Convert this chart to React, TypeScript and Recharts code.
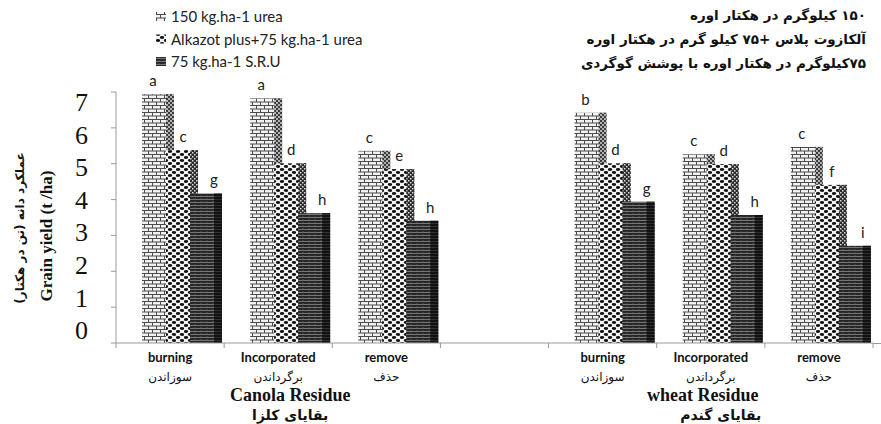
import React from 'react';
import { BarChart, Bar, XAxis, YAxis, LabelList } from 'recharts';

const categories = ['burning', 'Incorporated', 'remove', '', 'burning', 'Incorporated', 'remove'];
const categoriesFa = ['سوزاندن', 'برگرداندن', 'حذف', '', 'سوزاندن', 'برگرداندن', 'حذف'];

// group titles sit under the middle category of each residue group
const groupIndex = [1, 5];
const groupEn = ['Canola Residue', 'wheat Residue'];
const groupFa = ['بقایای کلزا', 'بقایای گندم'];

const urea150 = [6.94, 6.82, 5.36, null, 6.42, 5.26, 5.47];
const alkazot = [5.38, 5.01, 4.85, null, 5.01, 4.99, 4.41];
const sru = [4.17, 3.62, 3.41, null, 3.94, 3.57, 2.71];

const lettersUrea = ['a', 'a', 'c', '', 'b', 'c', 'c'];
const lettersAlk = ['c', 'd', 'e', '', 'd', 'd', 'f'];
const lettersSru = ['g', 'h', 'h', '', 'g', 'h', 'i'];

const yTicks = [0, 1, 2, 3, 4, 5, 6, 7];

const seriesEn = ['150 kg.ha-1 urea', 'Alkazot plus+75 kg.ha-1 urea', '75 kg.ha-1 S.R.U'];
const seriesFa = [
  '۱۵۰ کیلوگرم در هکتار اوره',
  'آلکازوت پلاس +۷۵ کیلو گرم در هکتار اوره',
  '۷۵کیلوگرم در هکتار اوره با پوشش گوگردی',
];

const data = categories.map((cat, i) => ({
  cat,
  fa: categoriesFa[i],
  urea: urea150[i],
  alk: alkazot[i],
  sru: sru[i],
  lu: lettersUrea[i],
  la: lettersAlk[i],
  ls: lettersSru[i],
}));

const W = 881;
const H = 424;
const LEFT = 116;
const RIGHT = 8;
const BAND = (W - LEFT - RIGHT) / categories.length;
const AXIS = '#9a9a9a';

const Patterns = () => (
  <svg width={0} height={0} style={{ position: 'absolute' }}>
    <defs>
      <pattern id="p1" patternUnits="userSpaceOnUse" width={8} height={7}>
        <rect width={8} height={7} fill="#f2f2f2" />
        <line x1={0} y1={0.5} x2={8} y2={0.5} stroke="#4a4a4a" />
        <line x1={0} y1={4} x2={8} y2={4} stroke="#4a4a4a" />
        <line x1={0.5} y1={0} x2={0.5} y2={4} stroke="#4a4a4a" />
        <line x1={4.5} y1={4} x2={4.5} y2={7} stroke="#4a4a4a" />
      </pattern>
      <pattern id="p1d" patternUnits="userSpaceOnUse" width={4} height={4}>
        <rect width={4} height={4} fill="#b0b0b0" />
        <rect width={2} height={2} fill="#3c3c3c" />
        <rect x={2} y={2} width={2} height={2} fill="#3c3c3c" />
      </pattern>
      <pattern id="p2" patternUnits="userSpaceOnUse" width={8} height={6}>
        <rect width={8} height={6} fill="#f4f4f4" />
        <ellipse cx={2} cy={1.5} rx={2.2} ry={1.4} fill="#111" />
        <ellipse cx={6} cy={4.5} rx={2.2} ry={1.4} fill="#111" />
      </pattern>
      <pattern id="p2d" patternUnits="userSpaceOnUse" width={4} height={4}>
        <rect width={4} height={4} fill="#2c2c2c" />
        <rect width={1.5} height={1.5} fill="#d8d8d8" />
        <rect x={2} y={2} width={1.5} height={1.5} fill="#d8d8d8" />
      </pattern>
      <pattern id="p3" patternUnits="userSpaceOnUse" width={6} height={3}>
        <rect width={6} height={3} fill="#262626" />
        <line x1={0} y1={1.5} x2={6} y2={1.5} stroke="#8a8a8a" strokeWidth={0.8} />
        <line x1={3} y1={0} x2={3} y2={1.5} stroke="#6a6a6a" strokeWidth={0.6} />
      </pattern>
      <pattern id="p3d" patternUnits="userSpaceOnUse" width={4} height={3}>
        <rect width={4} height={3} fill="#111" />
        <line x1={0} y1={1.5} x2={4} y2={1.5} stroke="#444" strokeWidth={0.6} />
      </pattern>
    </defs>
  </svg>
);

const patternBar = (pid: string) => (props: any) => {
  const { x, y, width, height } = props;
  if (!height || height <= 0) return <g />;
  return (
    <g>
      <rect x={x} y={y} width={width} height={height} fill={`url(#${pid})`} />
      <rect x={x + width - 8} y={y} width={8} height={height} fill={`url(#${pid}d)`} />
    </g>
  );
};

const letterLabel = (dx: number) => (props: any) => {
  const { x, y, width, value } = props;
  if (!value) return null;
  return (
    <text x={x + width / 2 + dx} y={y - 8} textAnchor="middle" fontFamily="Lato, sans-serif" fontSize={15} fill="#222">
      {value}
    </text>
  );
};

const YTick = (props: any) => {
  const { x, y, payload } = props;
  const v = payload.value;
  // the original's labels drift slightly off their tick marks
  const shift = -13 + (v * 23) / 7;
  return (
    <text x={x - 21} y={y + shift} dy="0.35em" textAnchor="end" fontFamily="'Liberation Serif', serif" fontSize={26} fill="#111">
      {v}
    </text>
  );
};

const XTick = (props: any) => {
  const { x, index } = props;
  const g = groupIndex.indexOf(index);
  const top = 343;
  return (
    <g>
      <line x1={x - BAND / 2} y1={top} x2={x - BAND / 2} y2={top + 5} stroke={AXIS} />
      {index === categories.length - 1 && (
        <line x1={x + BAND / 2} y1={top} x2={x + BAND / 2} y2={top + 5} stroke={AXIS} />
      )}
      <text x={x} y={top + 19} textAnchor="middle" fontFamily="Lato, sans-serif" fontWeight="bold" fontSize={13} fill="#111">
        {categories[index]}
      </text>
      <text x={x} y={top + 38} textAnchor="middle" fontFamily="'DejaVu Sans', sans-serif" fontSize={12} fill="#111">
        {categoriesFa[index]}
      </text>
      {g >= 0 && (
        <>
          <text x={x + (g === 0 ? 12 : -8)} y={top + 58} textAnchor="middle" fontFamily="'Liberation Serif', serif" fontWeight="bold" fontSize={18} fill="#111">
            {groupEn[g]}
          </text>
          <text x={x + (g === 0 ? 12 : 10)} y={top + 77} textAnchor="middle" fontFamily="'DejaVu Sans', sans-serif" fontWeight="bold" fontSize={14} fill="#111">
            {groupFa[g]}
          </text>
        </>
      )}
    </g>
  );
};

export default function App() {
  return (
    <div style={{ position: 'absolute', left: 0, top: 0, width: W, height: H, background: '#fff' }}>
      <Patterns />
      <BarChart
        width={W}
        height={H}
        data={data}
        margin={{ top: 92, right: RIGHT, left: 0, bottom: 0 }}
        barSize={32}
        barGap={-8}
      >
        <XAxis
          dataKey="cat"
          height={81}
          interval={0}
          tickLine={false}
          axisLine={{ stroke: AXIS }}
          tick={<XTick />}
        />
        <YAxis
          width={LEFT}
          domain={[0, 7]}
          ticks={yTicks}
          interval={0}
          axisLine={{ stroke: AXIS }}
          tickLine={{ stroke: AXIS }}
          tickSize={5}
          tick={<YTick />}
        />
        {/* empty slot kept from the source sheet, shifts the bars right in each band */}
        <Bar dataKey="spacer" isAnimationActive={false} />
        <Bar dataKey="urea" isAnimationActive={false} shape={patternBar('p1')}>
          <LabelList dataKey="lu" content={letterLabel(-5)} />
        </Bar>
        <Bar dataKey="alk" isAnimationActive={false} shape={patternBar('p2')}>
          <LabelList dataKey="la" content={letterLabel(1)} />
        </Bar>
        <Bar dataKey="sru" isAnimationActive={false} shape={patternBar('p3')}>
          <LabelList dataKey="ls" content={letterLabel(8)} />
        </Bar>
      </BarChart>

      <svg width={W} height={H} style={{ position: 'absolute', left: 0, top: 0, pointerEvents: 'none' }}>
        <line x1={W - RIGHT} y1={343.5} x2={W} y2={343.5} stroke={AXIS} />
        {seriesEn.map((s, i) => (
          <g key={s}>
            <rect x={156} y={12 + i * 22.5} width={10} height={9} fill={`url(#p${i + 1})`} />
            <text x={171} y={22 + i * 22.5} fontFamily="Lato, sans-serif" fontSize={15} fill="#222">
              {s}
            </text>
          </g>
        ))}
        <text
          transform="translate(24,228) rotate(-90)"
          textAnchor="middle"
          direction="rtl"
          fontFamily="'DejaVu Sans', sans-serif"
          fontWeight="bold"
          fontSize={12}
          fill="#111"
        >
          عملکرد دانه (تن در هکتار)
        </text>
        <text
          transform="translate(52,236) rotate(-90)"
          textAnchor="middle"
          fontFamily="'Liberation Serif', serif"
          fontWeight="bold"
          fontSize={17}
          fill="#111"
        >
          Grain yield (t /ha)
        </text>
      </svg>

      {seriesFa.map((s, i) => (
        <div
          key={s}
          style={{
            position: 'absolute',
            right: W - 866,
            top: 7 + i * 24,
            direction: 'rtl',
            textAlign: 'right',
            whiteSpace: 'nowrap',
            fontFamily: "'DejaVu Sans', sans-serif",
            fontWeight: 'bold',
            fontSize: 13.5,
            color: '#111',
          }}
        >
          {s}
        </div>
      ))}
    </div>
  );
}
